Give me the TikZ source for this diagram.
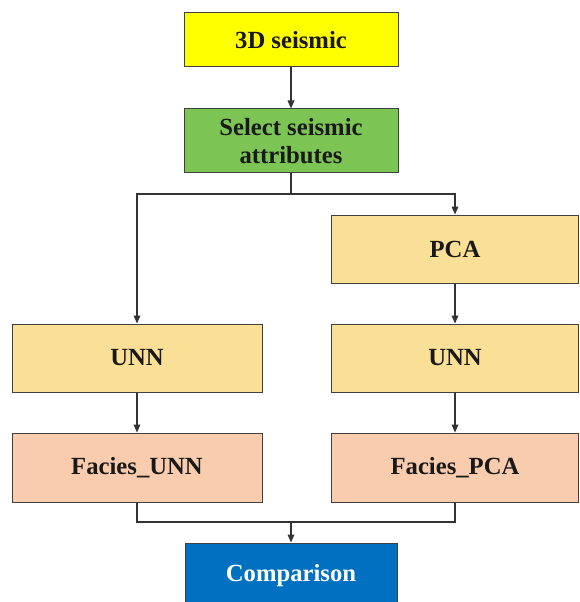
\documentclass[tikz,border=0pt]{standalone}
\usepackage{fontspec}
\setmainfont{Liberation Serif}
\usetikzlibrary{arrows.meta}

\definecolor{boxYellow}{RGB}{255,255,0}
\definecolor{boxGreen}{RGB}{124,196,84}
\definecolor{boxGold}{RGB}{250,224,150}
\definecolor{boxPeach}{RGB}{248,204,172}
\definecolor{boxBlue}{RGB}{0,112,192}

\tikzset{every picture/.style={line width=0.75pt}}
\tikzset{
  flowbox/.style={draw=black!75, rectangle, inner sep=0pt, align=center,
    font=\fontsize{18.5}{21}\selectfont\bfseries, text=black!90},
  flowline/.style={draw=black!80, line width=0.9pt},
  flowarrow/.style={flowline, -{Triangle[length=6pt,width=5pt]}}
}

\begin{document}
\begin{tikzpicture}[x=0.75pt,y=0.75pt,yscale=-1,xscale=1]
        \clip (0,0) rectangle (579,602);
        \useasboundingbox (0,0) rectangle (579,602);

        \node[flowbox, fill=boxYellow, minimum width=160.5pt, minimum height=40.5pt] (seis) at (291,40) {3D seismic};
        \node[flowbox, fill=boxGreen, minimum width=160.5pt, minimum height=48pt] (attr) at (291,141) {Select seismic\\attributes};
        \node[flowbox, fill=boxGold, minimum width=185.25pt, minimum height=51pt] (pca) at (455,249) {PCA};
        \node[flowbox, fill=boxGold, minimum width=187.5pt, minimum height=51pt] (unnL) at (137,358) {UNN};
        \node[flowbox, fill=boxGold, minimum width=185.25pt, minimum height=51pt] (unnR) at (455,358) {UNN};
        \node[flowbox, fill=boxPeach, minimum width=187.5pt, minimum height=51.75pt] (facL) at (137,467.5) {Facies\_UNN};
        \node[flowbox, fill=boxPeach, minimum width=185.25pt, minimum height=51.75pt] (facP) at (455,467.5) {Facies\_PCA};
        \node[flowbox, fill=boxBlue, text=white, minimum width=159pt, minimum height=48.75pt] (comp) at (291,575.5) {Comparison};

        \coordinate (split) at (291,194);
        \coordinate (join) at (291,522);

        \draw[flowarrow] (seis) -- (attr);
        \draw[flowline] (attr) -- (split);
        \draw[flowarrow] (split) -| (unnL);
        \draw[flowarrow] (split) -| (pca);
        \draw[flowarrow] (pca) -- (unnR);
        \draw[flowarrow] (unnL) -- (facL);
        \draw[flowarrow] (unnR) -- (facP);
        \draw[flowline] (facL) |- (join);
        \draw[flowline] (facP) |- (join);
        \draw[flowarrow] (join) -- (comp);
    \end{tikzpicture}
\end{document}
